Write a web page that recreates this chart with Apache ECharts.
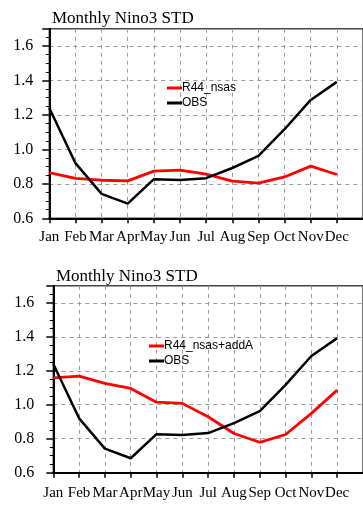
<!DOCTYPE html>
<html>
<head>
<meta charset="utf-8">
<script src="https://cdn.jsdelivr.net/npm/echarts@6/dist/echarts.min.js"></script>
<style>
  html, body { margin: 0; padding: 0; background: #fff; }
  #chart { width: 363px; height: 505px; }
</style>
</head>
<body>
<div id="chart"></div>
<script>
// Month labels along the x axis
const months = ['Jan', 'Feb', 'Mar', 'Apr', 'May', 'Jun', 'Jul', 'Aug', 'Sep', 'Oct', 'Nov', 'Dec'];

// Observed Nino3 SST standard deviation by calendar month
const obs = [1.24, 0.92, 0.742, 0.685, 0.827, 0.822, 0.833, 0.892, 0.962, 1.117, 1.287, 1.392];

// Model run R44_nsas
const r44Nsas = [0.865, 0.832, 0.821, 0.817, 0.874, 0.880, 0.856, 0.816, 0.804, 0.840, 0.903, 0.854];

// Model run R44_nsas+addA
const r44NsasAddA = [1.158, 1.168, 1.126, 1.096, 1.015, 1.008, 0.929, 0.831, 0.779, 0.825, 0.949, 1.086];

// Panel titles and legend names
const panelTitle = 'Monthly Nino3 STD';
const topRunName = 'R44_nsas';
const bottomRunName = 'R44_nsas+addA';
const obsName = 'OBS';

const serif = 'Liberation Serif, Times New Roman, serif';
const sans = 'Liberation Sans, Arial, sans-serif';

function toPoints(values) {
  return values.map((v, i) => [i + 1, v]);
}

function xAxisFor(gridIndex, labelMargin) {
  return {
    type: 'value', gridIndex: gridIndex,
    min: 1, max: 13, interval: 1,
    axisLine: { show: true, lineStyle: { color: '#000', width: 2 } },
    axisTick: { show: true, length: 5, lineStyle: { color: '#000', width: 1.5 } },
    axisLabel: {
      margin: labelMargin, fontFamily: serif, fontSize: 15, color: '#000',
      showMaxLabel: false,
      formatter: v => months[v - 1] || ''
    },
    splitLine: {
      show: true, showMinLine: false, showMaxLine: false,
      lineStyle: { color: '#9a9a9a', width: 1, type: [4, 4] }
    }
  };
}

function yAxisFor(gridIndex, labelMargin) {
  return {
    type: 'value', gridIndex: gridIndex,
    min: 0.6, max: 1.7, interval: 0.2,
    axisLine: { show: true, lineStyle: { color: '#000', width: 2 } },
    axisTick: { show: true, length: 7, lineStyle: { color: '#000', width: 1.5 } },
    minorTick: { show: true, splitNumber: 4, length: 3.5, lineStyle: { color: '#000', width: 1 } },
    axisLabel: {
      margin: labelMargin, fontFamily: serif, fontSize: 16, color: '#000',
      showMaxLabel: false,
      formatter: v => (Math.abs(v * 5 - Math.round(v * 5)) < 1e-6 ? v.toFixed(1) : '')
    },
    splitLine: {
      show: true, showMinLine: false, showMaxLine: false,
      lineStyle: { color: '#9a9a9a', width: 1, type: [4, 4] }
    }
  };
}

function legendFor(names, left, top) {
  return {
    data: names.map(n => ({ name: n })),
    orient: 'vertical',
    left: left, top: top,
    padding: 0,
    itemGap: 3,
    itemWidth: 15, itemHeight: 3,
    icon: 'rect',
    selectedMode: false,
    textStyle: { fontFamily: sans, fontSize: 12, color: '#000', padding: [0, 0, 0, -5] }
  };
}

const chart = echarts.init(document.getElementById('chart'), null, { renderer: 'canvas' });

chart.setOption({
  animation: false,
  backgroundColor: '#fff',
  title: [
    { text: panelTitle, left: 52, top: 10, padding: 0,
      textStyle: { fontFamily: serif, fontSize: 17, fontWeight: 'normal', color: '#000' } },
    { text: panelTitle, left: 56, top: 268, padding: 0,
      textStyle: { fontFamily: serif, fontSize: 17, fontWeight: 'normal', color: '#000' } }
  ],
  legend: [
    legendFor([topRunName, obsName], 167, 82),
    legendFor([bottomRunName, obsName], 149, 340)
  ],
  grid: [
    { left: 49.3, right: -2, top: 28.8, bottom: 286.7, show: true,
      borderColor: '#444', borderWidth: 1.5, backgroundColor: 'transparent' },
    { left: 53.3, right: -2.3, top: 285.8, bottom: 32.3, show: true,
      borderColor: '#444', borderWidth: 1.5, backgroundColor: 'transparent' }
  ],
  xAxis: [xAxisFor(0, 11), xAxisFor(1, 13)],
  yAxis: [yAxisFor(0, 16), yAxisFor(1, 19)],
  series: [
    { name: topRunName, type: 'line', xAxisIndex: 0, yAxisIndex: 0,
      data: toPoints(r44Nsas), showSymbol: false, symbol: 'none',
      itemStyle: { color: '#ff0000' }, lineStyle: { color: '#ff0000', width: 2.8 }, z: 3 },
    { name: obsName, type: 'line', xAxisIndex: 0, yAxisIndex: 0,
      data: toPoints(obs), showSymbol: false, symbol: 'none',
      itemStyle: { color: '#000' }, lineStyle: { color: '#000', width: 2.5 }, z: 4 },
    { name: bottomRunName, type: 'line', xAxisIndex: 1, yAxisIndex: 1,
      data: toPoints(r44NsasAddA), showSymbol: false, symbol: 'none',
      itemStyle: { color: '#ff0000' }, lineStyle: { color: '#ff0000', width: 2.8 }, z: 3 },
    { name: obsName, type: 'line', xAxisIndex: 1, yAxisIndex: 1,
      data: toPoints(obs), showSymbol: false, symbol: 'none',
      itemStyle: { color: '#000' }, lineStyle: { color: '#000', width: 2.5 }, z: 4 }
  ]
});
</script>
</body>
</html>
